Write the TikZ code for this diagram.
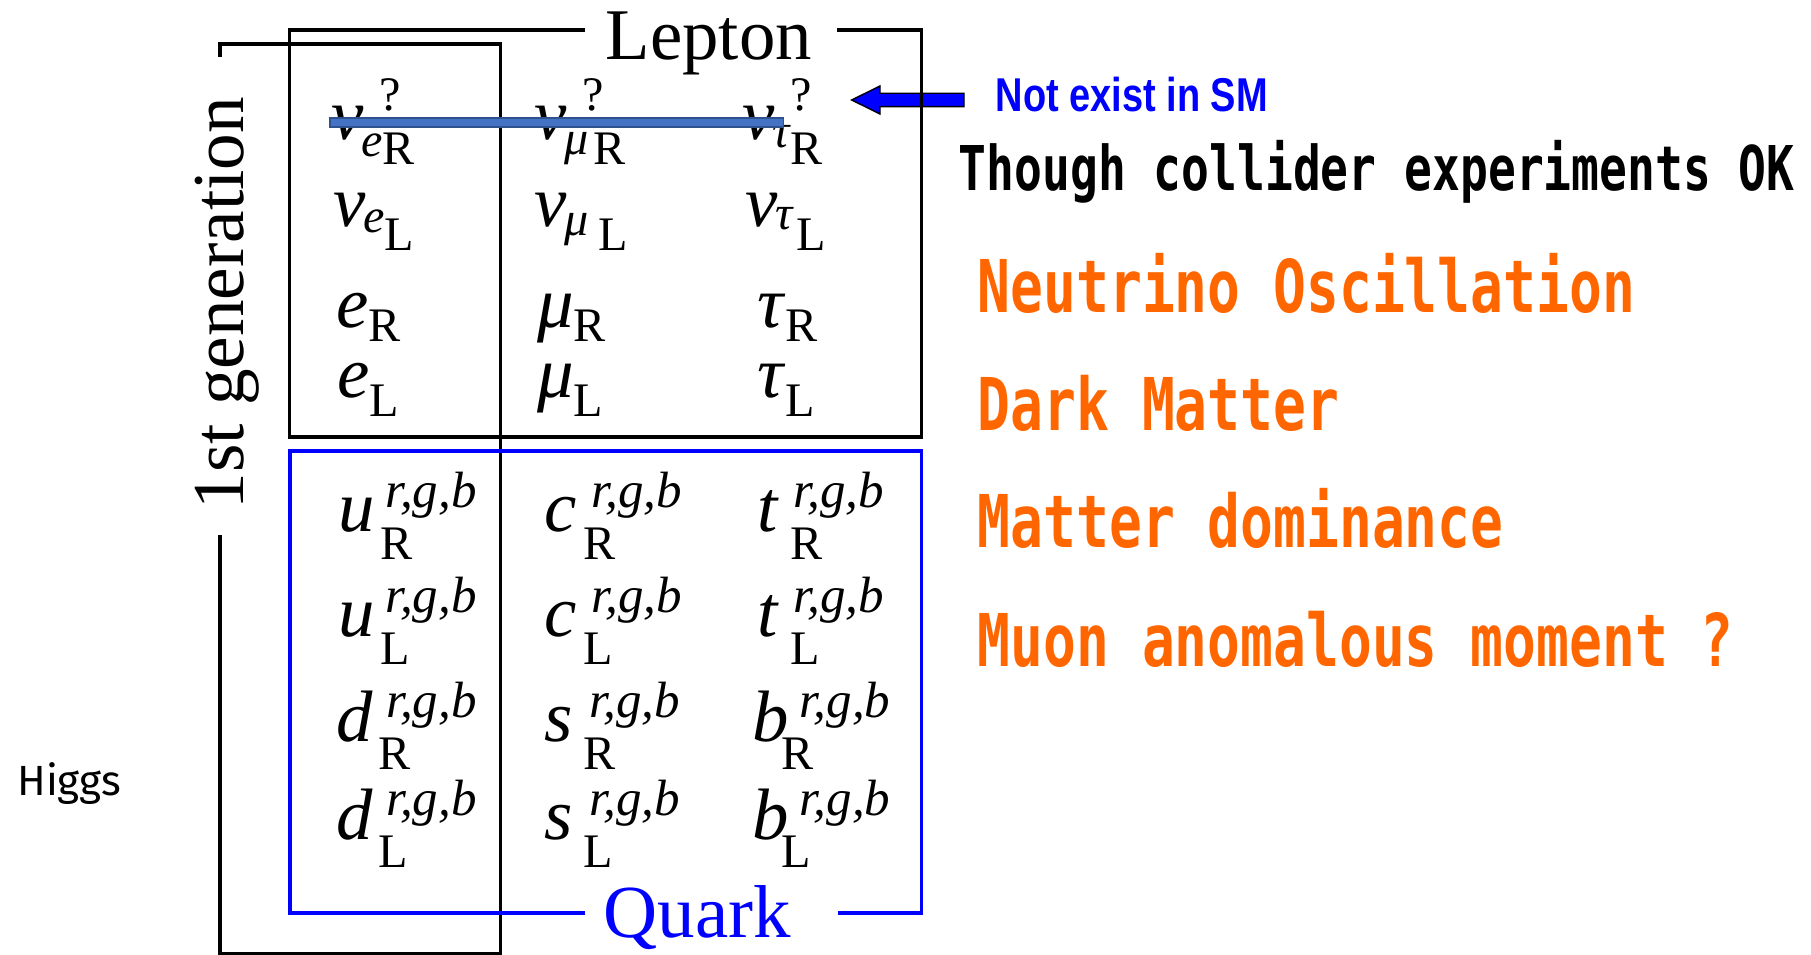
\documentclass[tikz,border=0pt]{standalone}
\usepackage{fontspec}
\setmainfont{Liberation Serif}
\newfontfamily\narrowfont[FakeStretch=0.8]{Liberation Sans}
\newfontfamily\monofont[FakeStretch=0.75]{DejaVu Sans Mono}
\newfontfamily\higgsfont{Fira Sans}
\usetikzlibrary{positioning}

\definecolor{barblue}{HTML}{4472C4}
\definecolor{barrim}{HTML}{2F528F}
\definecolor{remorange}{HTML}{FF6600}

% particle symbols
\newcommand{\scriptsz}{\fontsize{13.7}{15}\selectfont}
\newcommand{\supsz}{\fontsize{14.5}{16}\selectfont}
\newcommand{\nuright}[2]{\textit{ν}\rlap{\raisebox{.41em}{\scriptsz\kern.33em ?}}\kern-.04em\raisebox{#2}{\scriptsz\textit{#1}}\raisebox{-.34em}{\scriptsz R}}
\newcommand{\nuleft}[2]{\textit{ν}\kern-.04em\raisebox{#2}{\scriptsz\textit{#1}}\raisebox{-.32em}{\scriptsz L}}
\newcommand{\chlep}[3]{\textit{#1}\raisebox{#3}{\scriptsz #2}}
\newcommand{\quarkc}[4]{\textit{#1}\kern#3\rlap{\raisebox{.33em}{\supsz\kern#4\textit{r,g,b}}}\raisebox{-.38em}{\scriptsz #2}}

\begin{document}
\begin{tikzpicture}[x=0.01cm, y=-0.01cm,
    frame/.style={draw=black, line width=0.95pt},
    qframe/.style={draw=blue, line width=0.95pt},
    heading/.style={font=\fontsize{20.7}{25}\selectfont, inner sep=0pt, anchor=base west},
    particle/.style={font=\fontsize{20.7}{25}\selectfont, inner sep=0pt, anchor=base west},
    remark/.style={font=\monofont\bfseries\fontsize{20.7}{25}\selectfont, text=remorange, inner sep=0pt, anchor=base west},
    bar/.style={fill=barblue, draw=barrim, line width=0.4pt}
]
    \useasboundingbox (0,0) rectangle (1811,955);

    % Pointer
    \coordinate (tip) at (851.7,100);
    \filldraw[fill=blue, draw=black, line width=0.4pt] (tip) -- (880,86) -- (880,93.3) -- (964,93.3)
        -- (964,106.7) -- (880,106.7) -- (880,114) -- cycle;

    % Frames
    \draw[frame] (220,57) -- (220,44) -- (500.7,44) -- (500.7,953.5) -- (220,953.5) -- (220,535);
    \draw[frame] (585,30) -- (289.5,30) -- (289.5,437) -- (921.5,437) -- (921.5,30) -- (837,30);
    \draw[qframe] (585,913) -- (290,913) -- (290,451) -- (921.5,451) -- (921.5,913) -- (838,913);

    % Titles
    \node[heading] (lepton) at (605,60) {Lepton};
    \node[heading, text=blue, font=\fontsize{21.3}{25}\selectfont] (quark) at (603,938) {Quark};
    \node[heading, font=\fontsize{20.8}{25}\selectfont, rotate=90] (gen) at (243,510) {1st generation};

    % Leptons
    \node[particle] (nueR) at (331,140) {\nuright{e}{-.23em}};
    \node[particle] (numuR) at (534,140) {\nuright{μ\kern.1em}{-.2em}};
    \node[particle] (nutauR) at (742,140) {\nuright{τ}{-.1em}};
    \node[particle] (nueL) at (333,227) {\nuleft{e}{-.08em}};
    \node[particle] (numuL) at (534,227) {\nuleft{μ\kern.22em}{-.11em}};
    \node[particle] (nutauL) at (745,227) {\nuleft{τ\kern.08em}{-.04em}};
    \node[particle] (eR) at (335.6,328) {\chlep{e}{R}{-.19em}};
    \node[particle] (muR) at (536.6,328) {\chlep{μ}{R}{-.19em}};
    \node[particle] (tauR) at (757,328) {\chlep{τ}{R}{-.19em}};
    \node[particle] (eL) at (336.5,398) {\chlep{e}{L}{-.26em}};
    \node[particle] (muL) at (536.6,398) {\chlep{μ}{L}{-.26em}};
    \node[particle] (tauL) at (757,398) {\chlep{τ}{L}{-.26em}};

    % Quarks
    \node[particle] (uR) at (338,532) {\quarkc{u}{R}{.07em}{.11em}};
    \node[particle] (cR) at (544,532) {\quarkc{c}{R}{.09em}{.15em}};
    \node[particle] (tR) at (757,532) {\quarkc{t}{R}{.15em}{.06em}};
    \node[particle] (uL) at (338,637) {\quarkc{u}{L}{.07em}{.11em}};
    \node[particle] (cL) at (544,637) {\quarkc{c}{L}{.09em}{.15em}};
    \node[particle] (tL) at (757,637) {\quarkc{t}{L}{.15em}{.06em}};
    \node[particle] (dR) at (336,742) {\quarkc{d}{R}{.07em}{.15em}};
    \node[particle] (sR) at (544,742) {\quarkc{s}{R}{.15em}{.1em}};
    \node[particle] (bR) at (752,742) {\quarkc{b}{R}{-.1em}{.35em}};
    \node[particle] (dL) at (336,840) {\quarkc{d}{L}{.07em}{.15em}};
    \node[particle] (sL) at (544,840) {\quarkc{s}{L}{.15em}{.1em}};
    \node[particle] (bL) at (752,840) {\quarkc{b}{L}{-.1em}{.35em}};

    % Strike-through of the right-handed neutrinos
    \draw[bar] (330,118) rectangle (783.5,127);

    % Remarks
    \node[font=\narrowfont\bfseries\fontsize{13.5}{16}\selectfont, text=blue, inner sep=0pt, anchor=base west] (notsm) at (995,112) {Not exist in SM};
    \node[remark, text=black, font=\monofont\bfseries\fontsize{17.55}{21}\selectfont] (collider) at (958,191) {Though collider experiments OK};
    \node[remark] (osc) at (977,313) {Neutrino Oscillation};
    \node[remark] (dm) at (977,431) {Dark Matter};
    \node[remark] (dom) at (977,548) {Matter dominance};
    \node[remark] (muon) at (977,667) {Muon anomalous moment ?};
    \node[font=\higgsfont\fontsize{12}{14}\selectfont, inner sep=0pt, anchor=base west] (higgs) at (16.7,796) {Higgs};
\end{tikzpicture}
\end{document}
